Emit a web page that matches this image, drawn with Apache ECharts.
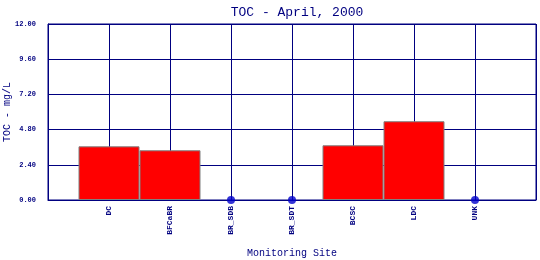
<!DOCTYPE html>
<html><head><meta charset="utf-8">
<script src="https://cdn.jsdelivr.net/npm/echarts@6/dist/echarts.min.js"></script>
<style>html,body{margin:0;padding:0;background:#fff}#c{width:540px;height:260px}</style>
</head><body><div id="c"></div>
<script>
const categories = ['DC','BFCaBR','BR_SDB','BR_SDT','BCSC','LDC','UNK'];
const tocValues = [3.66, 3.39, 0, 0, 3.73, 5.37, 0];
const yTicks = [0, 2.4, 4.8, 7.2, 9.6, 12];

const navy = '#000080';
const axisCats = [''].concat(categories, ['']);
const barData = [null].concat(tocValues.map(v => v > 0 ? v : '-'), [null]);
const dotData = [null].concat(tocValues.map(v => v === 0 ? v : '-'), [null]);

const chart = echarts.init(document.getElementById('c'));
chart.setOption({
  animation: false,
  title: {
    text: 'TOC - April, 2000', left: 292, textAlign: 'center', top: 1,
    textStyle: {fontFamily: 'Liberation Mono', fontSize: 13, fontWeight: 'normal', color: navy}
  },
  grid: {left: 48, right: 4, top: 24, bottom: 60, show: true, borderColor: navy, borderWidth: 1,
         containLabel: false, outerBoundsMode: 'none'},
  xAxis: {
    type: 'category', data: axisCats, boundaryGap: false,
    name: 'Monitoring Site', nameLocation: 'middle', nameGap: 48, nameMoveOverlap: false,
    nameTextStyle: {fontFamily: 'Liberation Mono', fontSize: 10, color: navy},
    axisLine: {lineStyle: {color: navy}}, axisTick: {show: false},
    axisLabel: {rotate: 90, margin: 6, interval: 0, fontFamily: 'Liberation Mono', fontSize: 8, fontWeight: 'bold', color: navy},
    splitLine: {show: true, lineStyle: {color: navy, width: 1}}
  },
  yAxis: {
    type: 'value', min: yTicks[0], max: yTicks[yTicks.length - 1], interval: yTicks[1] - yTicks[0],
    name: 'TOC - mg/L', nameLocation: 'middle', nameGap: 36, nameRotate: 90, nameMoveOverlap: false,
    nameTextStyle: {fontFamily: 'Liberation Mono', fontSize: 10, color: navy},
    axisLine: {show: true, lineStyle: {color: navy}}, axisTick: {show: false},
    axisLabel: {margin: 12, fontFamily: 'Liberation Mono', fontSize: 7, fontWeight: 'bold', color: navy,
      formatter: v => v.toFixed(2)},
    splitLine: {show: true, lineStyle: {color: navy, width: 1}}
  },
  series: [
    {type: 'bar', data: barData, barWidth: 61,
     itemStyle: {color: '#ff0000', borderColor: '#808080', borderWidth: 1}},
    {type: 'scatter', data: dotData, symbol: 'circle', symbolSize: 8,
     itemStyle: {color: '#0000cc'}, z: 5}
  ]
});
</script></body></html>
